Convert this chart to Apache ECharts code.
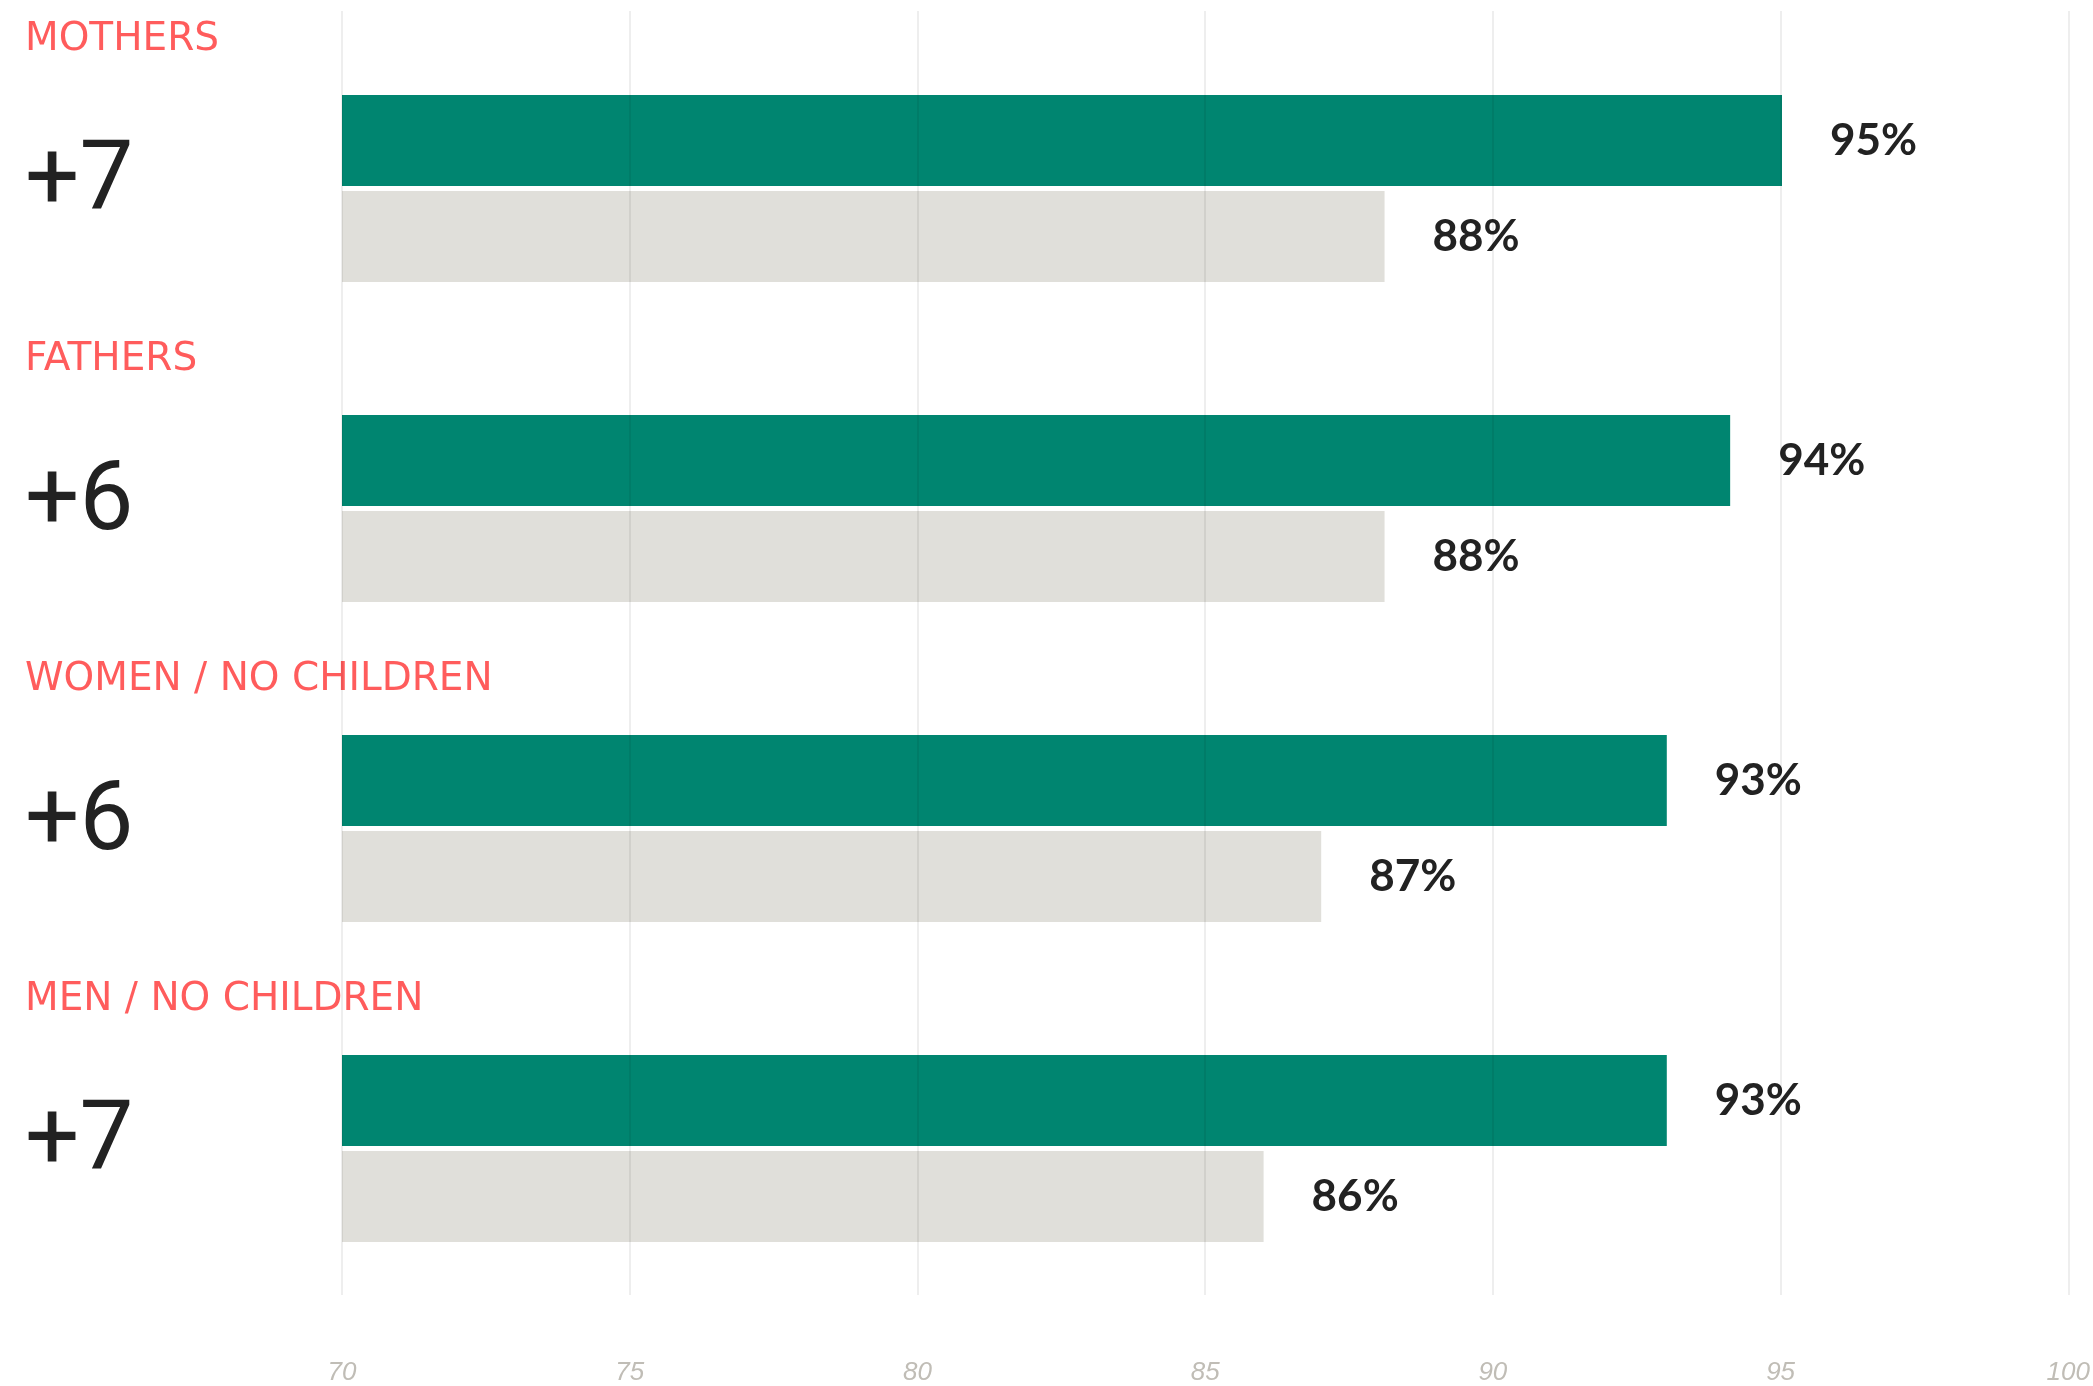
<!DOCTYPE html>
<html>
<head>
<meta charset="utf-8">
<script src="https://cdn.jsdelivr.net/npm/echarts@6/dist/echarts.min.js"></script>
<style>
html,body{margin:0;padding:0;background:#fff;}
#chart{width:2093px;height:1386px;}
</style>
</head>
<body>
<div id="chart"></div>
<script>
const categories = ['MOTHERS', 'FATHERS', 'WOMEN / NO CHILDREN', 'MEN / NO CHILDREN'];
const differences = ['+7', '+6', '+6', '+7'];
const seriesA = [95, 94.1, 93, 93];
const seriesB = [88.1, 88.1, 87, 86];
const xTicks = [70, 75, 80, 85, 90, 95, 100];

const chart = echarts.init(document.getElementById('chart'));
const barLabel = {
  show: true,
  position: 'right',
  distance: 48,
  color: '#222222',
  fontFamily: 'Lato',
  fontWeight: 'bold',
  fontSize: 44,
  formatter: p => Math.round(p.value) + '%'
};
chart.setOption({
  backgroundColor: '#ffffff',
  animation: false,
  grid: [
    {left: 342, width: 1728, top: 28.5, height: 1280},
    {left: 342, width: 1728, top: 11, height: 1284}
  ],
  xAxis: [
    {gridIndex: 0, type: 'value', min: xTicks[0], max: xTicks[xTicks.length - 1], interval: 5,
     axisLine: {show: false}, axisTick: {show: false}, axisLabel: {show: false}, splitLine: {show: false}},
    {gridIndex: 1, type: 'value', min: xTicks[0], max: xTicks[xTicks.length - 1], interval: 5, z: 10,
     axisLine: {show: false}, axisTick: {show: false},
     splitLine: {show: true, lineStyle: {color: 'rgba(0,0,0,0.09)', width: 1.5}},
     axisLabel: {show: true, margin: 65, color: '#c0bdb6', fontSize: 26, fontStyle: 'italic',
                 fontFamily: 'Liberation Sans Narrow, Liberation Sans, sans-serif'}}
  ],
  yAxis: [
    {gridIndex: 0, type: 'category', data: categories, inverse: true,
     axisLine: {show: false}, axisTick: {show: false}, splitLine: {show: false},
     axisLabel: {
       show: true, interval: 0, margin: 317, align: 'left', verticalAlign: 'middle',
       formatter: (v, i) => '{t|' + v + '}\n{n|' + differences[i] + '}\n{s| }',
       rich: {
         t: {color: '#ff5c5c', fontSize: 39, fontFamily: 'DejaVu Sans', lineHeight: 140, align: 'left'},
         n: {color: '#222222', fontSize: 96, fontFamily: 'Roboto', fontWeight: 'normal', lineHeight: 151, align: 'left'},
         s: {fontSize: 10, lineHeight: 147}
       }
     }},
    {gridIndex: 1, type: 'category', data: categories, show: false}
  ],
  series: [
    {type: 'bar', xAxisIndex: 0, yAxisIndex: 0, data: seriesA, barWidth: 91, barGap: '5.5%',
     itemStyle: {color: '#008570'}, label: barLabel},
    {type: 'bar', xAxisIndex: 0, yAxisIndex: 0, data: seriesB, barWidth: 91, barGap: '5.5%',
     itemStyle: {color: '#e0dfda'}, label: barLabel}
  ]
});
</script>
</body>
</html>
